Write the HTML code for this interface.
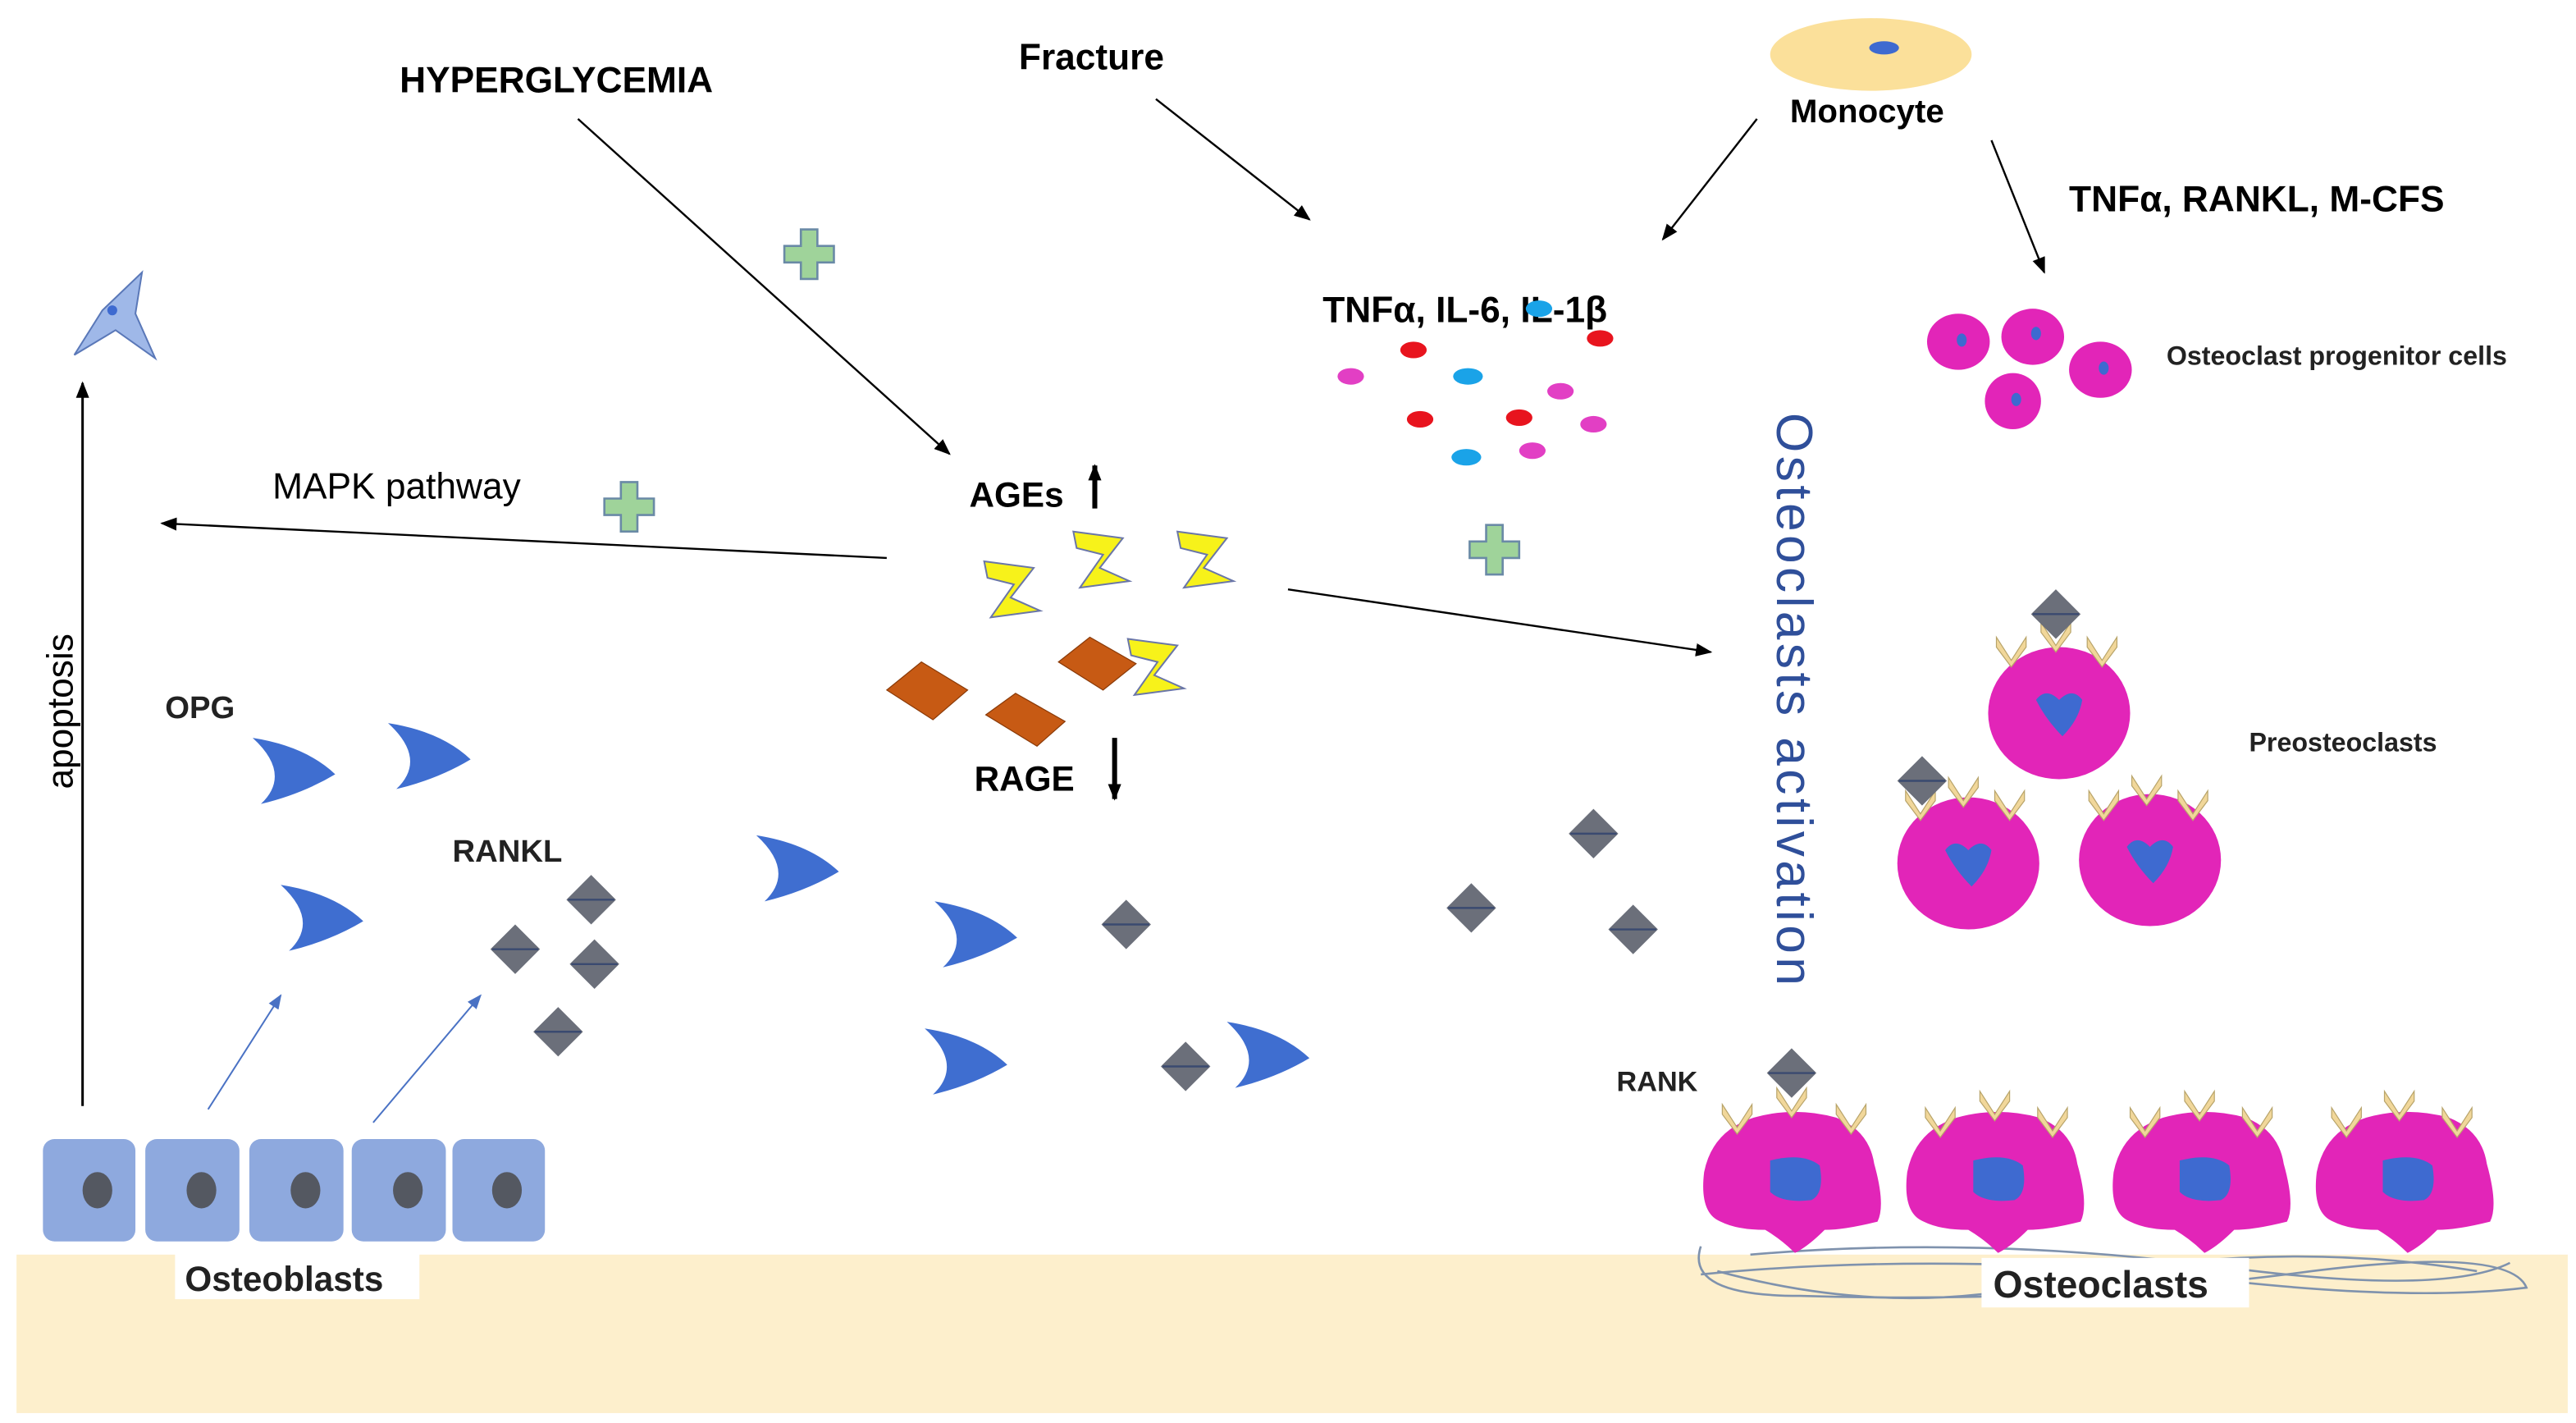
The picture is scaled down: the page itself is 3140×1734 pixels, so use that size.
<!DOCTYPE html>
<html><head><meta charset="utf-8"><style>
html,body{margin:0;padding:0;background:#fff;}
svg{display:block;}
text{font-family:"Liberation Sans",sans-serif;}
.b{font-weight:bold;}
</style></head><body>
<svg width="3140" height="1734" viewBox="0 0 1560 862" preserveAspectRatio="none" xmlns="http://www.w3.org/2000/svg">
<defs>
<marker id="ah" markerWidth="10" markerHeight="8" refX="9" refY="4" orient="auto" markerUnits="userSpaceOnUse"><path d="M0,0 L10,4 L0,8 Z" fill="#000"/></marker>
<marker id="ahb" markerWidth="9" markerHeight="7" refX="8" refY="3.5" orient="auto" markerUnits="userSpaceOnUse"><path d="M0,0 L9,3.5 L0,7 Z" fill="#4a72c4"/></marker>
<g id="chev"><path d="M0,0 Q32,5 50,22 Q30,34 5,40 Q24,22 0,0 Z" fill="#3f6ed0"/></g>
<g id="dia"><path d="M15,0 L30,15 L15,30 L0,15 Z" fill="#6b6f7a"/><line x1="1" y1="15" x2="29" y2="15" stroke="#3a4a70" stroke-width="1.2"/></g>
<g id="zz"><path d="M0,0 L30,4 L16,22 L34,30 L4,34 L18,14 L2,10 Z" fill="#f7f21a" stroke="#6a76a8" stroke-width="1"/></g>
<g id="plus"><path d="M-5,-15 H5 V-5 H15 V5 H5 V15 H-5 V5 H-15 V-5 H-5 Z" fill="#9fd39a" stroke="#6a8aa6" stroke-width="1.3"/></g>
<g id="v"><path d="M-9,-8 L0,6 L9,-8 L9,-2 L0,10 L-9,-2 Z" fill="#f1d79a" stroke="#b8a46a" stroke-width="0.6"/></g>
<g id="ocl"><path d="M-45,25 Q-58,20 -55,-5 Q-50,-30 -25,-38 Q0,-45 25,-38 Q45,-30 48,-10 Q55,15 50,25 Q30,30 18,30 Q8,40 0,44 Q-8,36 -18,30 Q-35,30 -45,25 Z" fill="#e225b8"/><path d="M-15,-12 Q5,-17 15,-9 Q18,8 10,12 Q-8,14 -15,7 Z" fill="#3e6ad0"/></g>
<g id="pre"><ellipse cx="0" cy="0" rx="43" ry="40" fill="#e225b8"/><path d="M-14,-8 Q-8,-16 0,-8 Q8,-16 14,-8 Q12,4 2,14 Q-8,4 -14,-8 Z" fill="#3e6ad0"/></g>
</defs>

<rect x="10" y="760" width="1546" height="96" fill="#fdefcc"/>
<rect x="1555" y="630" width="5" height="232" fill="#fff"/>

<text x="242" y="56" class="b" font-size="22">HYPERGLYCEMIA</text>
<text x="617" y="42" class="b" font-size="22">Fracture</text>
<ellipse cx="1133" cy="33" rx="61" ry="22" fill="#fbe09a"/>
<ellipse cx="1141" cy="29" rx="9" ry="4" fill="#3e6ad0"/>
<text x="1084" y="74" class="b" font-size="20">Monocyte</text>
<text x="1253" y="128" class="b" font-size="22">TNFα, RANKL, M-CFS</text>

<line x1="350" y1="72" x2="575" y2="275" stroke="#000" stroke-width="1.2" marker-end="url(#ah)"/>
<line x1="700" y1="60" x2="793" y2="133" stroke="#000" stroke-width="1.2" marker-end="url(#ah)"/>
<line x1="1064" y1="72" x2="1007" y2="145" stroke="#000" stroke-width="1.2" marker-end="url(#ah)"/>
<line x1="1206" y1="85" x2="1238" y2="165" stroke="#000" stroke-width="1.2" marker-end="url(#ah)"/>
<line x1="537" y1="338" x2="98" y2="317" stroke="#000" stroke-width="1.2" marker-end="url(#ah)"/>
<line x1="780" y1="357" x2="1036" y2="395" stroke="#000" stroke-width="1.2" marker-end="url(#ah)"/>
<line x1="50" y1="670" x2="50" y2="232" stroke="#000" stroke-width="1.5" marker-end="url(#ah)"/>
<line x1="126" y1="672" x2="170" y2="603" stroke="#4a72c4" stroke-width="1" marker-end="url(#ahb)"/>
<line x1="226" y1="680" x2="291" y2="603" stroke="#4a72c4" stroke-width="1" marker-end="url(#ahb)"/>

<path d="M45,215 L62,188 L86,165 L82,190 L94,217 L70,200 Z" fill="#9fb8e8" stroke="#5a78b8" stroke-width="1"/>
<circle cx="68" cy="188" r="3" fill="#3e6ad0"/>
<text transform="translate(44,478) rotate(-90)" font-size="22">apoptosis</text>

<use href="#plus" x="490" y="154"/>
<use href="#plus" x="381" y="307"/>
<use href="#plus" x="905" y="333"/>

<text x="165" y="302" font-size="22">MAPK pathway</text>

<text x="587" y="307" class="b" font-size="21">AGEs</text>
<line x1="663" y1="308" x2="663" y2="282" stroke="#000" stroke-width="3" marker-end="url(#ah)"/>
<text x="590" y="479" class="b" font-size="21">RAGE</text>
<line x1="675" y1="447" x2="675" y2="484" stroke="#000" stroke-width="3" marker-end="url(#ah)"/>
<use href="#zz" x="596" y="340"/>
<use href="#zz" x="650" y="322"/>
<use href="#zz" x="713" y="322"/>
<use href="#zz" x="683" y="387"/>
<path d="M537,418 L558,401 L586,418 L565,436 Z" fill="#c75a14" stroke="#8a3a08" stroke-width="0.6"/>
<path d="M597,433 L615,420 L645,437 L628,452 Z" fill="#c75a14" stroke="#8a3a08" stroke-width="0.6"/>
<path d="M641,401 L660,386 L688,402 L668,418 Z" fill="#c75a14" stroke="#8a3a08" stroke-width="0.6"/>

<text x="801" y="195" class="b" font-size="22">TNFα, IL-6, IL-1β</text>
<ellipse cx="932" cy="187" rx="8" ry="5" fill="#1aa3e8"/>
<ellipse cx="856" cy="212" rx="8" ry="5" fill="#e8141e"/>
<ellipse cx="969" cy="205" rx="8" ry="5" fill="#e8141e"/>
<ellipse cx="818" cy="228" rx="8" ry="5" fill="#e23fc4"/>
<ellipse cx="889" cy="228" rx="9" ry="5" fill="#1aa3e8"/>
<ellipse cx="945" cy="237" rx="8" ry="5" fill="#e23fc4"/>
<ellipse cx="860" cy="254" rx="8" ry="5" fill="#e8141e"/>
<ellipse cx="920" cy="253" rx="8" ry="5" fill="#e8141e"/>
<ellipse cx="965" cy="257" rx="8" ry="5" fill="#e23fc4"/>
<ellipse cx="928" cy="273" rx="8" ry="5" fill="#e23fc4"/>
<ellipse cx="888" cy="277" rx="9" ry="5" fill="#1aa3e8"/>

<text transform="translate(1076,250) rotate(90)" font-size="31" fill="#2f4f9a" textLength="347" lengthAdjust="spacing">Osteoclasts  activation</text>

<ellipse cx="1186" cy="207" rx="19" ry="17" fill="#e225b8"/><ellipse cx="1188" cy="206" rx="3" ry="4" fill="#3e6ad0"/>
<ellipse cx="1231" cy="204" rx="19" ry="17" fill="#e225b8"/><ellipse cx="1233" cy="202" rx="3" ry="4" fill="#3e6ad0"/>
<ellipse cx="1272" cy="224" rx="19" ry="17" fill="#e225b8"/><ellipse cx="1274" cy="223" rx="3" ry="4" fill="#3e6ad0"/>
<ellipse cx="1219" cy="243" rx="17" ry="17" fill="#e225b8"/><ellipse cx="1221" cy="242" rx="3" ry="4" fill="#3e6ad0"/>
<text x="1312" y="221" class="b" font-size="16" fill="#222">Osteoclast progenitor cells</text>

<use href="#pre" x="1247" y="432"/>
<use href="#pre" x="1192" y="523"/>
<use href="#pre" x="1302" y="521"/>
<use href="#v" x="1218" y="394"/><use href="#v" x="1245" y="385"/><use href="#v" x="1273" y="394"/>
<use href="#v" x="1163" y="487"/><use href="#v" x="1189" y="479"/><use href="#v" x="1217" y="487"/>
<use href="#v" x="1274" y="487"/><use href="#v" x="1300" y="478"/><use href="#v" x="1328" y="487"/>
<use href="#dia" x="1230" y="357"/>
<use href="#dia" x="1149" y="458"/>
<text x="1362" y="455" class="b" font-size="16" fill="#222">Preosteoclasts</text>

<text x="100" y="435" class="b" font-size="19" fill="#222">OPG</text>
<text x="274" y="522" class="b" font-size="19" fill="#222">RANKL</text>
<use href="#chev" x="153" y="447"/>
<use href="#chev" x="235" y="438"/>
<use href="#chev" x="170" y="536"/>
<use href="#chev" x="458" y="506"/>
<use href="#chev" x="566" y="546"/>
<use href="#chev" x="560" y="623"/>
<use href="#chev" x="743" y="619"/>
<use href="#dia" x="343" y="530"/>
<use href="#dia" x="297" y="560"/>
<use href="#dia" x="345" y="569"/>
<use href="#dia" x="323" y="610"/>
<use href="#dia" x="667" y="545"/>
<use href="#dia" x="703" y="631"/>
<use href="#dia" x="876" y="535"/>
<use href="#dia" x="950" y="490"/>
<use href="#dia" x="974" y="548"/>

<g fill="#8ea9de">
<rect x="26" y="690" width="56" height="62" rx="7"/>
<rect x="88" y="690" width="57" height="62" rx="7"/>
<rect x="151" y="690" width="57" height="62" rx="7"/>
<rect x="213" y="690" width="57" height="62" rx="7"/>
<rect x="274" y="690" width="56" height="62" rx="7"/>
</g>
<g fill="#545861">
<ellipse cx="59" cy="721" rx="9" ry="11"/><ellipse cx="122" cy="721" rx="9" ry="11"/><ellipse cx="185" cy="721" rx="9" ry="11"/><ellipse cx="247" cy="721" rx="9" ry="11"/><ellipse cx="307" cy="721" rx="9" ry="11"/>
</g>
<rect x="106" y="757" width="148" height="30" fill="#fff"/>
<text x="112" y="782" class="b" font-size="21" fill="#222">Osteoblasts</text>

<text x="979" y="661" class="b" font-size="17" fill="#222">RANK</text>
<g fill="none" stroke="#7f92ad" stroke-width="1.3">
<path d="M1030,755 Q1020,785 1090,785 Q1250,790 1400,770 Q1520,755 1530,780 Q1450,790 1300,770 Q1150,760 1030,772"/>
<path d="M1060,760 Q1200,748 1350,768 Q1480,785 1520,765"/>
<path d="M1040,770 Q1150,800 1250,775 Q1380,750 1500,770"/>
</g>
<use href="#ocl" x="1087" y="715"/>
<use href="#ocl" x="1210" y="715"/>
<use href="#ocl" x="1335" y="715"/>
<use href="#ocl" x="1458" y="715"/>
<use href="#v" x="1052" y="677"/><use href="#v" x="1085" y="667"/><use href="#v" x="1121" y="677"/>
<use href="#v" x="1175" y="679"/><use href="#v" x="1208" y="669"/><use href="#v" x="1243" y="679"/>
<use href="#v" x="1299" y="679"/><use href="#v" x="1332" y="669"/><use href="#v" x="1367" y="679"/>
<use href="#v" x="1421" y="679"/><use href="#v" x="1453" y="669"/><use href="#v" x="1488" y="679"/>
<use href="#dia" x="1070" y="635"/>
<rect x="1200" y="762" width="162" height="30" fill="#fff"/>
<text x="1207" y="786" class="b" font-size="23" fill="#222">Osteoclasts</text>
</svg>
</body></html>
